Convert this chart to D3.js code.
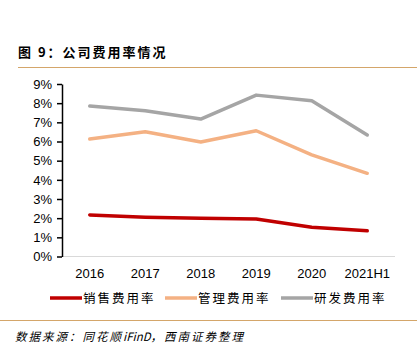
<!DOCTYPE html>
<html><head><meta charset="utf-8">
<script src="https://cdn.jsdelivr.net/npm/d3@7/dist/d3.min.js"></script>
<style>body{margin:0;background:#fff;}svg{display:block;}</style>
</head><body>
<script>
const categories = ["2016","2017","2018","2019","2020","2021H1"];
const seriesNames = ["销售费用率","管理费用率","研发费用率"];
const sales = [2.17, 2.05, 1.99, 1.96, 1.53, 1.34];
const admin = [6.13, 6.51, 5.97, 6.56, 5.30, 4.34];
const rnd = [7.85, 7.60, 7.17, 8.42, 8.13, 6.34];
const yTicks = [0,1,2,3,4,5,6,7,8,9];
const colors = ["#C00000","#F4B183","#A5A5A5"];
const series = [sales, admin, rnd];

const W = 420, H = 356;
const svg = d3.select("body").append("svg").attr("width", W).attr("height", H);
const font = "'Noto Sans CJK SC', sans-serif";

svg.append("text").attr("x", 18).attr("y", 57).attr("font-family", font)
  .attr("font-size", 13).attr("font-weight", "bold").attr("fill", "#000")
  .attr("letter-spacing", 2)
  .text("图 9：公司费用率情况");
svg.append("line").attr("x1", 18).attr("x2", 417).attr("y1", 67.5).attr("y2", 67.5)
  .attr("stroke", "#D4A66A").attr("stroke-width", 1.2);

const x = d3.scaleBand().domain(categories).range([62, 395]);
const y = d3.scaleLinear().domain([0, 9]).range([256.5, 84]);

svg.append("line").attr("x1", 62).attr("x2", 395).attr("y1", y(0)).attr("y2", y(0))
  .attr("stroke", "#D9D9D9").attr("stroke-width", 1);

const yAxis = d3.axisLeft(y).tickValues(yTicks).tickFormat(d => d + "%").tickSize(5).tickSizeOuter(0);
const gy = svg.append("g").attr("transform", "translate(62,0)").call(yAxis);
gy.select(".domain").attr("stroke", "#000").attr("stroke-width", 1.5);
gy.selectAll(".tick line").attr("stroke", "#000").attr("stroke-width", 1.5);
gy.selectAll(".tick text").attr("font-family", "Arial, 'Liberation Sans', sans-serif")
  .attr("font-size", 13).attr("fill", "#000").attr("x", -10);

const xAxis = d3.axisBottom(x).tickSize(0);
const gx = svg.append("g").attr("transform", `translate(0,${y(0)})`).call(xAxis);
gx.select(".domain").remove();
gx.selectAll(".tick text").attr("font-family", "Arial, 'Liberation Sans', sans-serif")
  .attr("font-size", 13).attr("fill", "#000").attr("dy", "1.05em").attr("y", 8);

const line = d3.line().x((d, i) => x(categories[i]) + x.bandwidth() / 2).y(d => y(d));
series.forEach((s, k) => {
  svg.append("path").datum(s).attr("d", line).attr("fill", "none")
    .attr("stroke", colors[k]).attr("stroke-width", 3.5).attr("stroke-linejoin", "round")
    .attr("stroke-linecap", "round");
});

const legX = [50, 165, 281];
seriesNames.forEach((n, k) => {
  svg.append("line").attr("x1", legX[k]).attr("x2", legX[k] + 32).attr("y1", 298).attr("y2", 298)
    .attr("stroke", colors[k]).attr("stroke-width", 3.5);
  svg.append("text").attr("x", legX[k] + 33).attr("y", 303).attr("font-family", font)
    .attr("font-size", 12.5).attr("fill", "#000").attr("letter-spacing", 2).text(n);
});

svg.append("line").attr("x1", 0).attr("x2", 417).attr("y1", 320.5).attr("y2", 320.5)
  .attr("stroke", "#D4A66A").attr("stroke-width", 1.2);
const src = svg.append("text").attr("x", 15).attr("y", 341).attr("font-family", font)
  .attr("font-size", 11.5).attr("font-style", "italic").attr("fill", "#000");
src.append("tspan").attr("letter-spacing", 2).text("数据来源：同花顺");
src.append("tspan").attr("letter-spacing", 0).text("iFinD");
src.append("tspan").attr("letter-spacing", 2).text("，西南证券整理");
</script>
</body></html>
